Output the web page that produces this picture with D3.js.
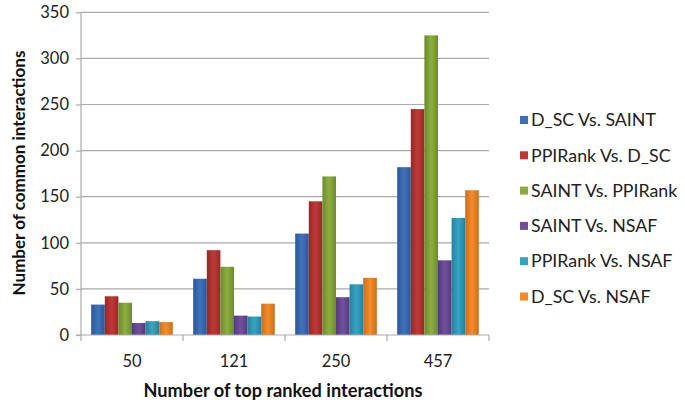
<!DOCTYPE html>
<html><head><meta charset="utf-8">
<script src="https://cdn.jsdelivr.net/npm/d3@7"></script>
<style>body{margin:0;background:#fff;}svg{display:block;font-family:Lato,"Open Sans",sans-serif;}</style>
</head><body><svg id="c" width="685" height="404"></svg>
<script>
const categories = ["50", "121", "250", "457"];
const seriesNames = ["D_SC Vs. SAINT", "PPIRank Vs. D_SC", "SAINT Vs. PPIRank", "SAINT Vs. NSAF", "PPIRank Vs. NSAF", "D_SC Vs. NSAF"];
const dscSaint = [33, 61, 110, 182];
const ppirankDsc = [42, 92, 145, 245];
const saintPpirank = [35, 74, 172, 325];
const saintNsaf = [13, 21, 41, 81];
const ppirankNsaf = [15, 20, 55, 127];
const dscNsaf = [14, 34, 62, 157];
const yTicks = [0, 50, 100, 150, 200, 250, 300, 350];
const colors = ["#3d70b8", "#bb3836", "#8aac3f", "#6f4f9a", "#35a2c0", "#f08a2a"];
const dark = ["#2b5896", "#962826", "#6c8a2c", "#55397c", "#25819c", "#cc6e18"];

const values = [dscSaint, ppirankDsc, saintPpirank, saintNsaf, ppirankNsaf, dscNsaf];
const svg = d3.select("#c");
const m = {l: 81, r: 489, t: 12.3, b: 335};
const x0 = d3.scaleBand().domain(categories).range([m.l, m.r]).padding(0);
const bw = x0.bandwidth();
const gap = bw * 0.2;
const x1 = d3.scaleBand().domain(seriesNames).range([gap/2, bw - gap/2]).padding(0);
const y = d3.scaleLinear().domain([0, 350]).range([m.b, m.t]);

const defs = svg.append("defs");
colors.forEach((c, i) => {
  const g = defs.append("linearGradient").attr("id", "g" + i).attr("x1", "0").attr("x2", "1").attr("y1", "0").attr("y2", "0");
  g.append("stop").attr("offset", "0").attr("stop-color", dark[i]);
  g.append("stop").attr("offset", "0.45").attr("stop-color", c);
  g.append("stop").attr("offset", "0.55").attr("stop-color", c);
  g.append("stop").attr("offset", "1").attr("stop-color", dark[i]);
});

// gridlines
svg.append("g").selectAll("line").data(yTicks.filter(d => d > 0)).join("line")
  .attr("x1", m.l).attr("x2", m.r).attr("y1", d => y(d)).attr("y2", d => y(d))
  .attr("stroke", "#ababab").attr("stroke-width", 1.2);

// bars
seriesNames.forEach((s, i) => {
  svg.append("g").selectAll("rect").data(categories).join("rect")
    .attr("x", c => x0(c) + x1(s))
    .attr("width", x1.bandwidth())
    .attr("y", (c, j) => y(values[i][j]))
    .attr("height", (c, j) => y(0) - y(values[i][j]))
    .attr("fill", "url(#g" + i + ")");
});

// y axis
const ya = svg.append("g").attr("transform", `translate(${m.l},0)`)
  .call(d3.axisLeft(y).tickValues(yTicks).tickSize(5).tickPadding(7));
ya.select(".domain").attr("stroke", "#ababab").attr("stroke-width", 1.2).attr("d", `M-0,${m.t}V${m.b}`);
ya.selectAll(".tick line").attr("stroke", "#ababab").attr("stroke-width", 1.2);
ya.selectAll("text").attr("font-size", 16.5).attr("fill", "#222").attr("font-family", "Lato, 'Open Sans', sans-serif");

// x axis
const xa = svg.append("g").attr("transform", `translate(0,${m.b})`)
  .call(d3.axisBottom(x0).tickSize(0).tickPadding(20));
xa.select(".domain").attr("stroke", "#ababab").attr("stroke-width", 1.2).attr("d", `M${m.l - 5},0H${m.r}`);
xa.selectAll("text").attr("font-size", 16.5).attr("fill", "#222").attr("font-family", "Lato, 'Open Sans', sans-serif");
svg.append("g").selectAll("line").data(d3.range(categories.length + 1)).join("line")
  .attr("x1", i => m.l + i * bw).attr("x2", i => m.l + i * bw)
  .attr("y1", m.b).attr("y2", m.b + 6).attr("stroke", "#ababab").attr("stroke-width", 1.2);

// axis titles
svg.append("text").attr("x", 283).attr("y", 397).attr("text-anchor", "middle")
  .attr("font-size", 18.2).attr("font-weight", "bold").attr("fill", "#111").text("Number of top ranked interactions");
svg.append("text").attr("transform", "translate(25,173) rotate(-90)").attr("text-anchor", "middle")
  .attr("font-size", 17).attr("font-weight", "bold").attr("fill", "#111").text("Number of common interactions");

// legend
const lg = svg.append("g").selectAll("g").data(seriesNames).join("g")
  .attr("transform", (d, i) => `translate(520,${120 + i * 35.3})`);
lg.append("rect").attr("x", 0).attr("y", -4).attr("width", 8).attr("height", 8).attr("fill", (d, i) => colors[i]);
lg.append("text").attr("x", 11).attr("y", 0).attr("dy", "0.35em").attr("font-size", 17.8).attr("fill", "#222").text(d => d);
</script></body></html>
